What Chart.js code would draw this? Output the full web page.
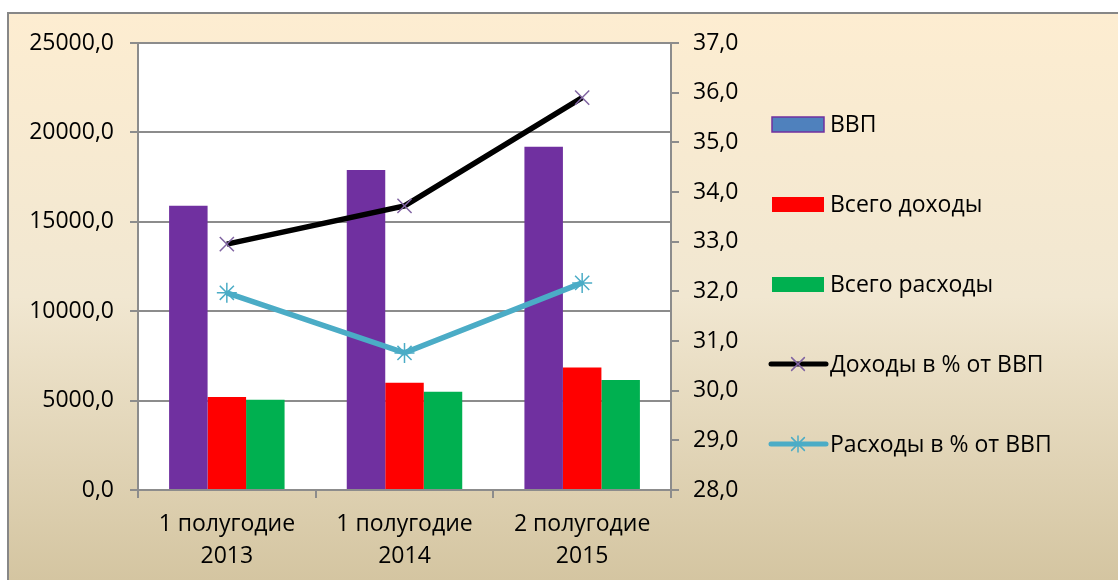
<!DOCTYPE html>
<html lang="ru">
  <head>
    <meta charset="UTF-8">
    <title>ВВП, доходы и расходы</title>
    <script src="https://cdn.jsdelivr.net/npm/chart.js@4.4.6/dist/chart.umd.min.js"></script>
    <style>
      html, body { margin: 0; padding: 0; background: #fff; }
      #wrap { width: 1118px; height: 580px; position: relative; }
    </style>
  </head>
  <body>
    <div id="wrap"><canvas id="chart"></canvas></div>
    <script>
      // categories
      const periods = [["1 полугодие", "2013"], ["1 полугодие", "2014"], ["2 полугодие", "2015"]];
      // bar series (left axis)
      const gdp = [15900, 17900, 19200];
      const revenue = [5200, 6000, 6850];
      const spending = [5050, 5500, 6150];
      // line series (right axis, %)
      const revenuePct = [32.95, 33.72, 35.9];
      const spendingPct = [31.97, 30.76, 32.17];

      const FONT = "'Open Sans', 'Noto Sans', sans-serif";
      const SIZE = 23;
      const fmt = v => v.toFixed(1).replace(".", ",");

      // background panel with gradient and grey border on top/left
      const panelBg = {
        id: "panelBg",
        beforeDraw(chart) {
          const c = chart.ctx;
          c.save();
          c.fillStyle = "#fff";
          c.fillRect(0, 0, chart.width, chart.height);
          const g = c.createLinearGradient(0, 13, 0, chart.height);
          g.addColorStop(0, "#fdedd1");
          g.addColorStop(0.5, "#f1e7d1");
          g.addColorStop(1, "#d4c5a1");
          c.fillStyle = g;
          c.fillRect(8, 13, chart.width, chart.height);
          c.strokeStyle = "#878787";
          c.lineWidth = 2;
          c.beginPath();
          c.moveTo(8, chart.height);
          c.lineTo(8, 13);
          c.lineTo(chart.width, 13);
          c.stroke();
          const a = chart.chartArea;
          c.fillStyle = "#fff";
          c.fillRect(a.left, a.top, a.right - a.left, a.bottom - a.top);
          c.restore();
        }
      };

      // legend on the right, items spaced like the original
      const sideLegend = {
        id: "sideLegend",
        afterDraw(chart) {
          const c = chart.ctx;
          const x0 = 772, boxW = 52, tx = 830, y0 = 124, step = 80;
          c.save();
          c.font = SIZE + "px " + FONT;
          c.textBaseline = "middle";
          chart.data.datasets.forEach((ds, i) => {
            const y = y0 + i * step;
            if (ds.type === "bar") {
              c.fillStyle = ds.legendFill || ds.backgroundColor;
              c.fillRect(x0, y - 7, boxW, 15);
              if (ds.legendStroke) {
                c.strokeStyle = ds.legendStroke;
                c.lineWidth = 1.5;
                c.strokeRect(x0, y - 7, boxW, 15);
              }
            } else {
              c.strokeStyle = ds.borderColor;
              c.lineWidth = 5;
              c.lineCap = "round";
              c.beginPath();
              c.moveTo(x0 - 1, y);
              c.lineTo(x0 + boxW + 2, y);
              c.stroke();
              c.strokeStyle = ds.pointBorderColor;
              c.lineWidth = 1.5;
              const r = 8;
              const cx = x0 + boxW / 2;
              c.beginPath();
              c.moveTo(cx - r * 0.8, y - r * 0.8); c.lineTo(cx + r * 0.8, y + r * 0.8);
              c.moveTo(cx - r * 0.8, y + r * 0.8); c.lineTo(cx + r * 0.8, y - r * 0.8);
              if (ds.pointStyle === "star") {
                c.moveTo(cx, y - r); c.lineTo(cx, y + r);
                c.moveTo(cx - r, y); c.lineTo(cx + r, y);
              }
              c.stroke();
            }
            c.fillStyle = "#000";
            c.fillText(ds.label, tx, y + 1);
          });
          c.restore();
        }
      };

      const gridGrey = "#8c8c8c";

      new Chart(document.getElementById("chart"), {
        data: {
          labels: periods,
          datasets: [
            { type: "bar", label: "ВВП", data: gdp, backgroundColor: "#7030a0",
              legendFill: "#4f81bd", legendStroke: "#7030a0", yAxisID: "y", order: 2 },
            { type: "bar", label: "Всего доходы", data: revenue, backgroundColor: "#ff0000", yAxisID: "y", order: 2 },
            { type: "bar", label: "Всего расходы", data: spending, backgroundColor: "#00b050", yAxisID: "y", order: 2 },
            { type: "line", label: "Доходы в % от ВВП", data: revenuePct, yAxisID: "y1", order: 1,
              borderColor: "#000", borderWidth: 5.5, pointStyle: "crossRot", pointRadius: 10,
              pointBorderColor: "#8064a2", pointBorderWidth: 1.5, pointBackgroundColor: "#8064a2",
              tension: 0 },
            { type: "line", label: "Расходы в % от ВВП", data: spendingPct, yAxisID: "y1", order: 1,
              borderColor: "#4bacc6", borderWidth: 5.5, pointStyle: "star", pointRadius: 10,
              pointBorderColor: "#4bacc6", pointBorderWidth: 1.5, pointBackgroundColor: "#4bacc6",
              tension: 0 }
          ]
        },
        options: {
          responsive: true,
          maintainAspectRatio: false,
          animation: false,
          datasets: { bar: { categoryPercentage: 0.65, barPercentage: 1 } },
          layout: { padding: { left: 8, top: 43, right: 0, bottom: 0 } },
          plugins: { legend: { display: false }, tooltip: { enabled: false } },
          scales: {
            x: {
              afterFit: s => { s.height = 90; },
              grid: { offset: true, drawOnChartArea: false, color: gridGrey, tickLength: 8, lineWidth: 2 },
              border: { color: gridGrey, width: 2 },
              ticks: { color: "#000", font: { family: FONT, size: SIZE, lineHeight: 1.4 }, padding: 10 }
            },
            y: {
              position: "left",
              min: 0, max: 25000,
              afterFit: s => { s.width = 130; },
              grid: { color: gridGrey, lineWidth: 2, tickLength: 8 },
              border: { color: gridGrey, width: 2 },
              ticks: { stepSize: 5000, color: "#000", font: { family: FONT, size: SIZE }, padding: 16, callback: v => fmt(v) }
            },
            y1: {
              position: "right",
              min: 28, max: 37,
              afterFit: s => { s.width = 447; },
              grid: { drawOnChartArea: false, color: gridGrey, lineWidth: 2, tickLength: 8 },
              border: { color: gridGrey, width: 2 },
              ticks: { stepSize: 1, color: "#000", font: { family: FONT, size: SIZE }, padding: 14, callback: v => fmt(v) }
            }
          }
        },
        plugins: [panelBg, sideLegend]
      });
    </script>
  </body>
</html>
